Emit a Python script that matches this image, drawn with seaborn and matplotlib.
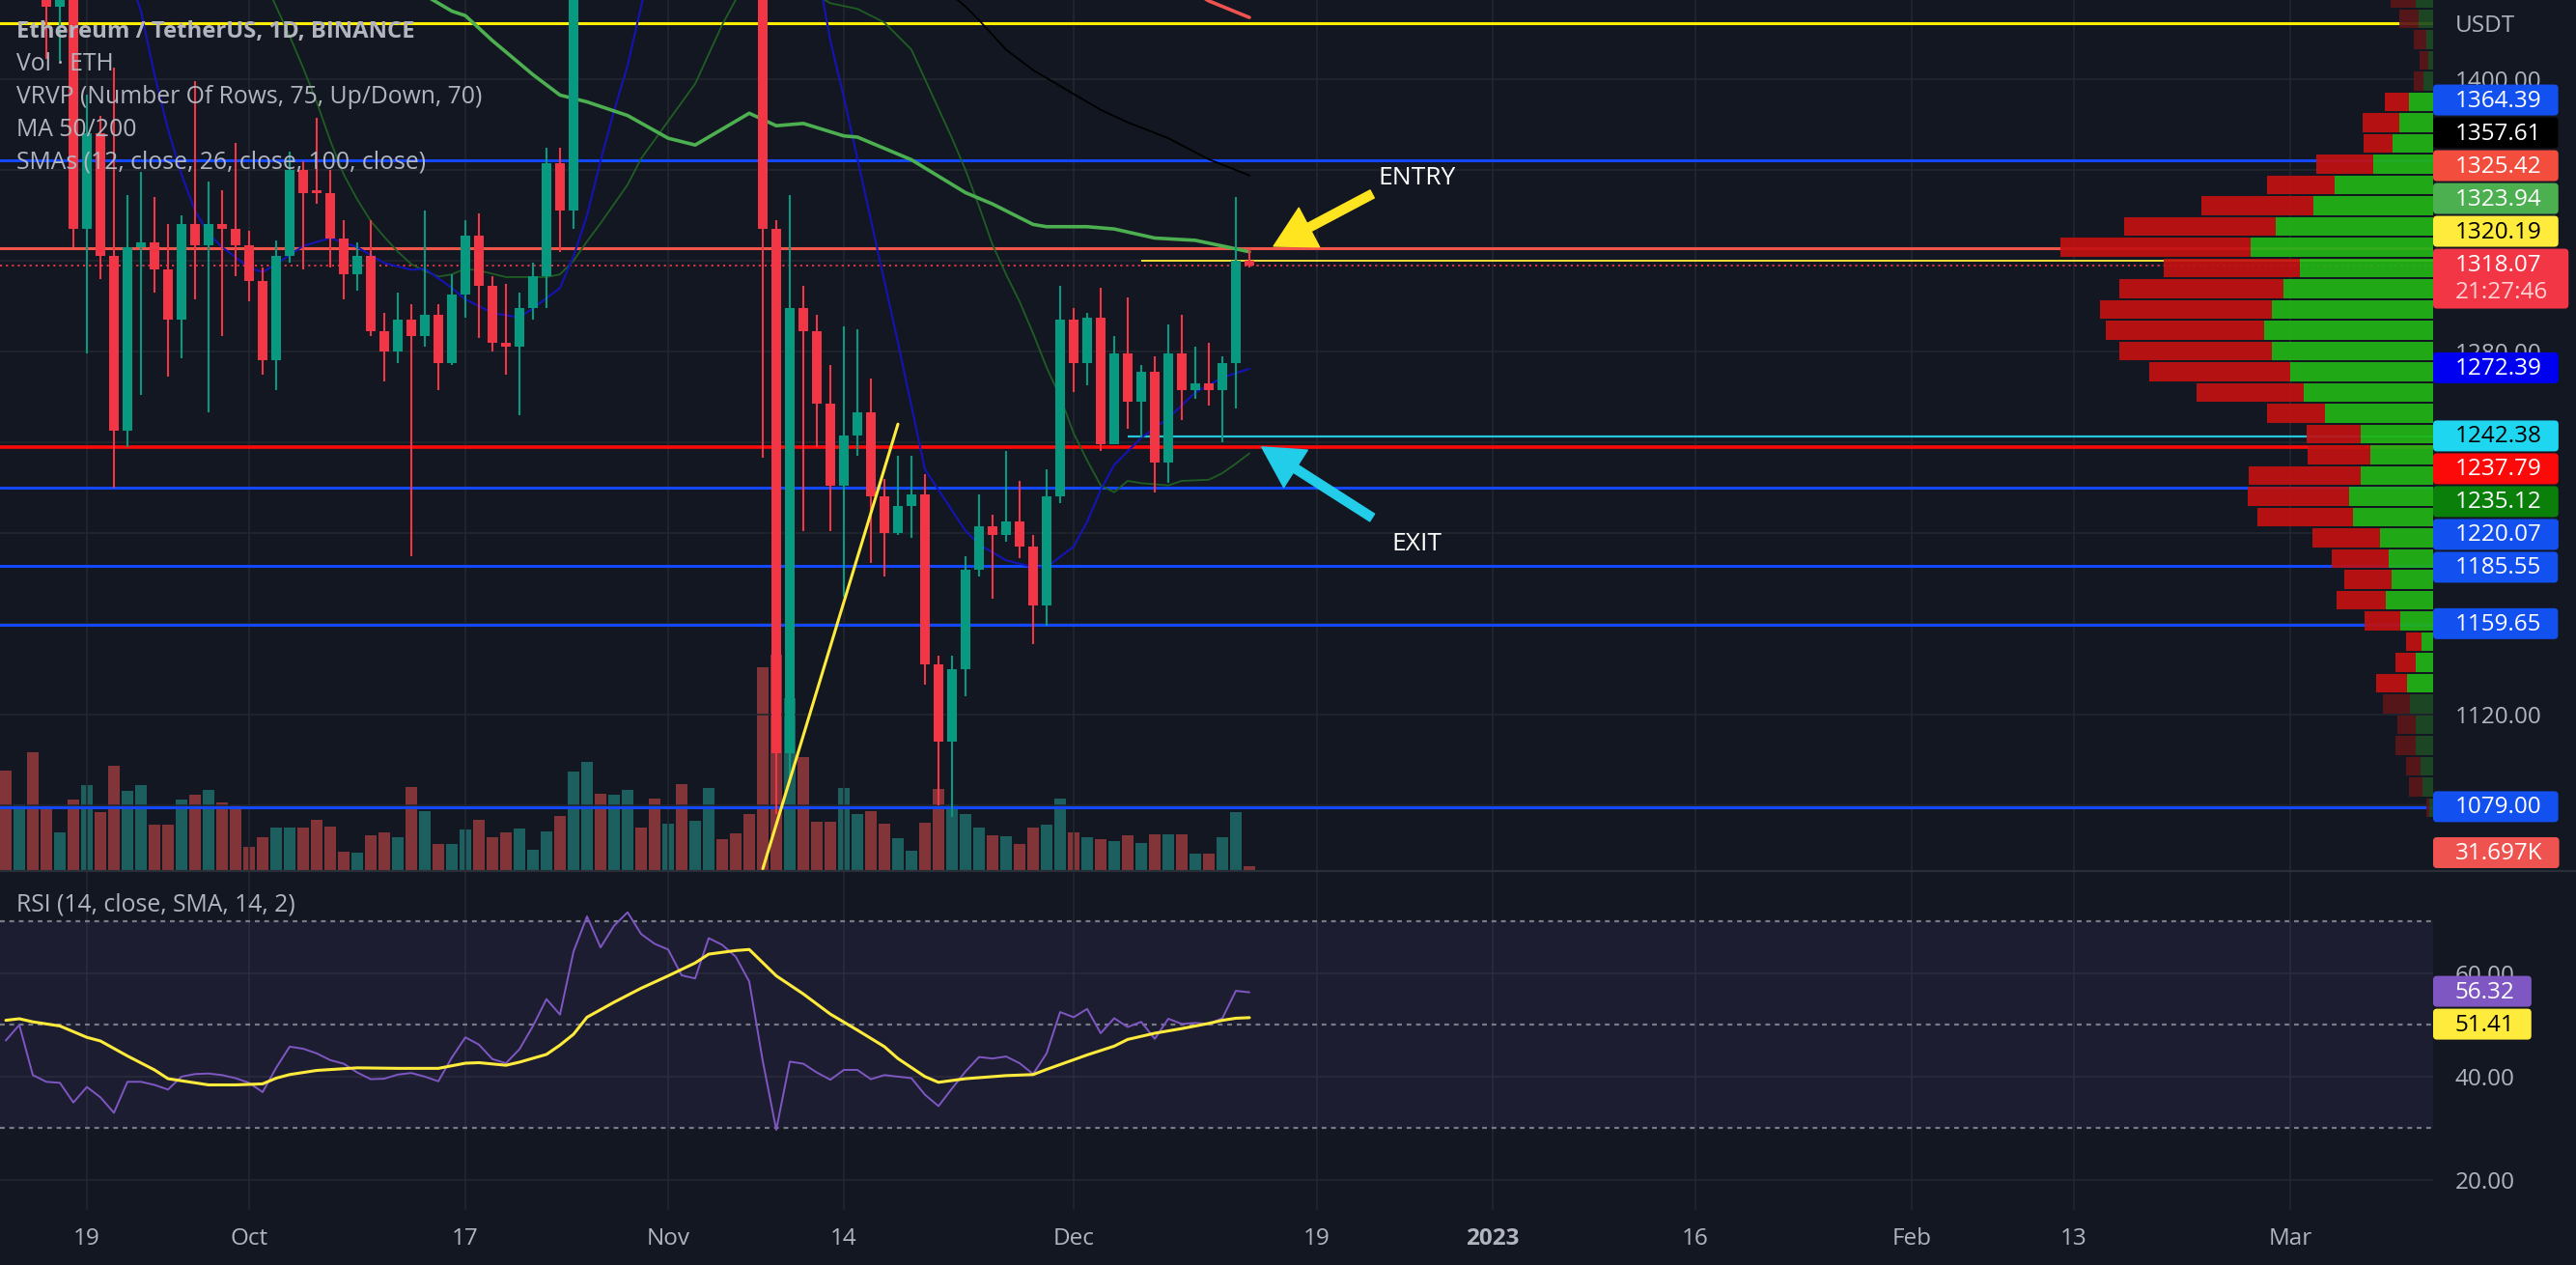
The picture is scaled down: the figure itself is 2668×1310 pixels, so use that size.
import numpy as np
import pandas as pd
import matplotlib
matplotlib.use("Agg")
import matplotlib.pyplot as plt
import matplotlib.transforms as mtransforms
from matplotlib.patches import FancyBboxPatch
from matplotlib.ticker import FormatStrFormatter
import seaborn as sns

# ======================= DATA =======================
first_candle = "2022-09-13"
opens = [1716, 1573, 1636, 1472, 1432, 1470, 1334, 1376, 1322, 1245,
         1326, 1328, 1316, 1294, 1336, 1327, 1336, 1334, 1327, 1311,
         1276, 1322, 1360, 1351, 1350, 1330, 1314, 1322, 1289, 1280,
         1294, 1287, 1296, 1275, 1305, 1331, 1309, 1284, 1282, 1299,
         1313, 1363, 1342, 1460, 1565, 1513, 1555, 1620, 1590, 1572,
         1580, 1520, 1531, 1645, 1627, 1573, 1568, 1334, 1103, 1299,
         1289, 1257, 1221, 1243, 1253, 1216, 1200, 1212, 1217, 1142,
         1108, 1140, 1184, 1203, 1199, 1205, 1194, 1168, 1216, 1294,
         1275, 1295, 1239, 1279, 1258, 1271, 1231, 1279, 1263, 1266,
         1263, 1275, 1320]
highs = [1785, 1640, 1652, 1480, 1478, 1472, 1393, 1384, 1405, 1349,
         1359, 1348, 1336, 1340, 1399, 1355, 1351, 1372, 1333, 1317,
         1329, 1368, 1364, 1383, 1360, 1338, 1328, 1338, 1297, 1306,
         1301, 1342, 1301, 1314, 1338, 1341, 1313, 1310, 1306, 1319,
         1370, 1370, 1470, 1590, 1580, 1560, 1640, 1635, 1640, 1610,
         1620, 1560, 1680, 1680, 1640, 1600, 1610, 1338, 1349, 1309,
         1296, 1274, 1291, 1290, 1268, 1224, 1234, 1234, 1226, 1146,
         1146, 1190, 1217, 1208, 1236, 1223, 1199, 1228, 1309, 1299,
         1297, 1308, 1287, 1304, 1274, 1278, 1292, 1296, 1282, 1284,
         1278, 1348, 1325]
lows = [1560, 1555, 1460, 1409, 1408, 1326, 1279, 1312, 1220, 1238,
        1261, 1306, 1269, 1277, 1303, 1253, 1287, 1313, 1302, 1270,
        1263, 1319, 1316, 1345, 1317, 1303, 1307, 1287, 1267, 1275,
        1190, 1282, 1263, 1274, 1295, 1286, 1280, 1270, 1252, 1294,
        1299, 1324, 1334, 1455, 1505, 1485, 1550, 1575, 1555, 1565,
        1505, 1510, 1528, 1620, 1570, 1545, 1233, 1076, 1090, 1201,
        1238, 1201, 1172, 1234, 1187, 1181, 1199, 1198, 1133, 1080,
        1075, 1128, 1181, 1171, 1196, 1189, 1151, 1159, 1213, 1262,
        1265, 1236, 1239, 1246, 1242, 1218, 1222, 1250, 1259, 1256,
        1240, 1255, 1317]
closes = [1573, 1636, 1472, 1432, 1470, 1334, 1376, 1322, 1245, 1326,
          1328, 1316, 1294, 1336, 1327, 1336, 1334, 1327, 1311, 1276,
          1322, 1360, 1350, 1350, 1330, 1314, 1322, 1289, 1280, 1294,
          1287, 1296, 1275, 1305, 1331, 1309, 1284, 1282, 1299, 1313,
          1363, 1342, 1460, 1565, 1513, 1555, 1620, 1590, 1572, 1580,
          1520, 1531, 1645, 1627, 1573, 1568, 1334, 1103, 1299, 1289,
          1257, 1221, 1243, 1253, 1216, 1200, 1212, 1217, 1142, 1108,
          1140, 1184, 1203, 1199, 1205, 1194, 1168, 1216, 1294, 1275,
          1295, 1239, 1279, 1258, 1271, 1231, 1279, 1263, 1266, 1263,
          1275, 1320, 1318.07]
volumes_k = [824, 544, 976, 504, 312, 584, 704, 480, 864, 656,
             704, 376, 376, 584, 624, 664, 560, 536, 192, 272,
             352, 352, 352, 416, 360, 152, 144, 288, 312, 272,
             688, 488, 216, 216, 336, 416, 272, 312, 344, 168,
             320, 448, 816, 896, 632, 624, 664, 352, 592, 384,
             712, 408, 680, 256, 304, 464, 1680, 1784, 1424, 936,
             400, 400, 680, 464, 488, 384, 264, 160, 392, 672,
             544, 464, 352, 288, 280, 216, 352, 376, 592, 312,
             272, 256, 240, 288, 224, 296, 296, 296, 136, 136,
             272, 480, 31.697]
countdown = "21:27:46"

rsi_values = [47.0, 50.0, 40.3, 39.0, 38.8, 35.0, 38.0, 36.0, 33.0, 39.0,
              39.0, 38.4, 37.5, 40.0, 40.5, 40.6, 40.3, 39.7, 38.8, 37.0,
              41.7, 45.8, 45.4, 44.5, 43.2, 42.5, 40.8, 39.5, 39.6, 40.4,
              40.7, 40.0, 39.1, 43.7, 47.6, 46.2, 43.4, 42.6, 45.3, 49.8,
              55.0, 52.0, 64.2, 71.0, 65.0, 69.2, 71.8, 67.6, 65.7, 64.6,
              59.6, 59.0, 66.8, 65.5, 63.2, 58.4, 43.0, 29.7, 42.9, 42.5,
              40.8, 39.4, 41.3, 41.3, 39.5, 40.3, 40.0, 39.7, 36.5, 34.3,
              37.7, 41.0, 43.8, 43.5, 43.9, 42.6, 40.5, 44.5, 52.5, 51.5,
              53.1, 48.4, 51.3, 49.6, 50.6, 47.3, 51.2, 50.2, 50.4, 50.2,
              51.3, 56.6, 56.32]

rsi_ma_dates = ["2022-09-13", "2022-09-14", "2022-09-15", "2022-09-17", "2022-09-19",
                "2022-09-20", "2022-09-22", "2022-09-24", "2022-09-25", "2022-09-28",
                "2022-09-30", "2022-10-02", "2022-10-03", "2022-10-04", "2022-10-06",
                "2022-10-09", "2022-10-12", "2022-10-15", "2022-10-17", "2022-10-18",
                "2022-10-20", "2022-10-21", "2022-10-23", "2022-10-24", "2022-10-25",
                "2022-10-26", "2022-10-28", "2022-10-30", "2022-11-01", "2022-11-03",
                "2022-11-04", "2022-11-06", "2022-11-07", "2022-11-09", "2022-11-11",
                "2022-11-13", "2022-11-15", "2022-11-17", "2022-11-18", "2022-11-20",
                "2022-11-21", "2022-11-23", "2022-11-24", "2022-11-26", "2022-11-28",
                "2022-11-29", "2022-12-02", "2022-12-04", "2022-12-05", "2022-12-07",
                "2022-12-09", "2022-12-11", "2022-12-12", "2022-12-13", "2022-12-14"]
rsi_ma_values = [50.9, 51.2, 50.6, 49.8, 47.6, 46.9, 44.0, 41.3, 39.6, 38.4,
                 38.4, 38.6, 39.7, 40.4, 41.2, 41.7, 41.6, 41.6, 42.6, 42.7,
                 42.2, 42.8, 44.3, 46.1, 48.2, 51.5, 54.4, 57.1, 59.5, 62.0,
                 63.7, 64.4, 64.6, 59.5, 56.0, 52.1, 49.0, 45.8, 43.5, 40.0,
                 38.9, 39.6, 39.8, 40.2, 40.4, 41.4, 44.2, 45.9, 47.2, 48.4,
                 49.3, 50.3, 50.9, 51.3, 51.41]

ma50_dates = ["2022-10-13", "2022-10-14", "2022-10-16", "2022-10-17", "2022-10-19",
              "2022-10-22", "2022-10-24", "2022-10-26", "2022-10-29", "2022-11-01",
              "2022-11-03", "2022-11-05", "2022-11-07", "2022-11-09", "2022-11-11",
              "2022-11-14", "2022-11-15", "2022-11-19", "2022-11-23", "2022-11-25",
              "2022-11-28", "2022-11-29", "2022-12-02", "2022-12-04", "2022-12-07",
              "2022-12-10", "2022-12-12", "2022-12-14"]
ma50_values = [1442, 1437, 1430, 1428, 1417, 1402, 1393, 1390, 1384, 1374,
               1371, 1378, 1385, 1379.5, 1380.5, 1375, 1374.5, 1364.5, 1350, 1345,
               1336, 1335, 1335, 1334, 1330, 1329, 1326.5, 1323.94]

ma200_dates = ["2022-12-10", "2022-12-11", "2022-12-14"]
ma200_values = [1438, 1434.5, 1427.2]

sma12_dates = ["2022-09-22", "2022-09-23", "2022-09-24", "2022-09-25", "2022-09-26",
               "2022-09-27", "2022-09-28", "2022-09-29", "2022-10-01", "2022-10-02",
               "2022-10-03", "2022-10-05", "2022-10-07", "2022-10-09", "2022-10-11",
               "2022-10-13", "2022-10-14", "2022-10-16", "2022-10-17", "2022-10-19",
               "2022-10-21", "2022-10-22", "2022-10-24", "2022-10-25", "2022-10-26",
               "2022-10-27", "2022-10-28", "2022-10-29", "2022-10-30", "2022-10-31",
               "2022-11-05", "2022-11-10", "2022-11-12", "2022-11-13", "2022-11-14",
               "2022-11-15", "2022-11-16", "2022-11-17", "2022-11-18", "2022-11-19",
               "2022-11-20", "2022-11-21", "2022-11-22", "2022-11-23", "2022-11-24",
               "2022-11-26", "2022-11-28", "2022-11-29", "2022-12-01", "2022-12-02",
               "2022-12-03", "2022-12-04", "2022-12-06", "2022-12-08", "2022-12-10",
               "2022-12-12", "2022-12-14"]
sma12_values = [1448, 1430, 1402, 1378, 1358, 1342, 1332, 1326, 1317, 1315,
                1318.5, 1326.5, 1330, 1326, 1319, 1316, 1316.5, 1308, 1303, 1297,
                1295, 1299, 1308, 1322, 1340, 1364, 1386, 1406, 1432, 1458,
                1560, 1530, 1450, 1417, 1392, 1365, 1338, 1311, 1284, 1256,
                1228, 1219, 1210, 1201, 1195, 1188, 1185, 1185, 1194, 1205,
                1219, 1230, 1242, 1250.6, 1262, 1268.5, 1272.39]

sma26_dates = ["2022-10-02", "2022-10-03", "2022-10-04", "2022-10-05", "2022-10-06",
               "2022-10-07", "2022-10-08", "2022-10-09", "2022-10-10", "2022-10-11",
               "2022-10-12", "2022-10-13", "2022-10-14", "2022-10-15", "2022-10-16",
               "2022-10-17", "2022-10-18", "2022-10-20", "2022-10-23", "2022-10-24",
               "2022-10-25", "2022-10-26", "2022-10-27", "2022-10-28", "2022-10-29",
               "2022-10-30", "2022-11-01", "2022-11-03", "2022-11-04", "2022-11-05",
               "2022-11-06", "2022-11-08", "2022-11-11", "2022-11-12", "2022-11-13",
               "2022-11-15", "2022-11-17", "2022-11-19", "2022-11-20", "2022-11-22",
               "2022-11-23", "2022-11-24", "2022-11-25", "2022-11-26", "2022-11-27",
               "2022-11-28", "2022-11-29", "2022-11-30", "2022-12-01", "2022-12-02",
               "2022-12-03", "2022-12-04", "2022-12-05", "2022-12-06", "2022-12-08",
               "2022-12-09", "2022-12-11", "2022-12-12", "2022-12-13", "2022-12-14"]
sma26_values = [1445, 1432, 1419, 1405, 1390, 1373, 1358, 1347, 1337.5, 1330.5,
                1324, 1318.5, 1315.5, 1313, 1314, 1316.5, 1315.7, 1312.8, 1312.8, 1314,
                1320, 1328.5, 1336.5, 1345, 1353.5, 1365, 1381.5, 1398, 1411, 1424,
                1435, 1452, 1446, 1437, 1433.5, 1431, 1425, 1413, 1400, 1374,
                1360, 1344, 1327, 1314, 1302, 1288, 1273, 1260, 1244, 1232,
                1221, 1218, 1223, 1222, 1221, 1223, 1223.5, 1226.4, 1230.6, 1235.12]

sma100_dates = ["2022-11-21", "2022-11-22", "2022-11-23", "2022-11-24", "2022-11-26",
                "2022-11-28", "2022-12-01", "2022-12-03", "2022-12-05", "2022-12-08",
                "2022-12-11", "2022-12-14"]
sma100_values = [1445, 1437, 1432, 1426, 1413, 1404, 1393.5, 1386.5, 1381, 1374,
                 1364.7, 1357.61]

# horizontal levels drawn on the chart
level_prices = [1424.7, 1364.39, 1325.42, 1237.79, 1220.07, 1185.55, 1159.65, 1079.00]
level_colors = ["#ffee00", "#1448ff", "#f0554a", "#ff0a0a", "#1448ff", "#1448ff", "#1448ff", "#1448ff"]
level_label_colors = [None, "#1250f0", "#f24d3d", "#fc0a0a", "#1250f0", "#1250f0", "#1250f0", "#1250f0"]
entry_level, entry_from = 1320.19, "2022-12-06"
exit_level, exit_from = 1242.38, "2022-12-05"

trend_dates = ["2022-11-08", "2022-11-18"]
trend_prices = [1052, 1248]

entry_arrow = (("2022-12-23 02:00", 1349.4), ("2022-12-15 19:00", 1326.4))
exit_arrow = (("2022-12-23 02:00", 1206.8), ("2022-12-14 22:00", 1237.9))
entry_text = ("2022-12-26 10:00", 1356.2, "ENTRY")
exit_text = ("2022-12-26 10:00", 1195.3, "EXIT")

# VRVP rows (bottom to top)
vrvp_low, vrvp_step = 1074.3, 9.15
vrvp_up = [4, 11, 13, 18, 18, 24, 27, 18, 12, 34,
           49, 43, 46, 55, 83, 87, 75, 65, 75, 112,
           134, 148, 167, 175, 167, 155, 138, 189, 163, 124,
           102, 62, 42, 35, 25, 10, 5, 7, 15, 18]
vrvp_down = [3, 14, 15, 21, 19, 28, 32, 21, 16, 37,
             51, 49, 59, 70, 99, 105, 116, 65, 56, 60,
             111, 146, 158, 164, 178, 170, 141, 197, 157, 116,
             70, 59, 30, 38, 25, 10, 9, 13, 20, 26]
vrvp_value_area = (6, 34)

time_tick_dates = ["2022-09-19", "2022-10-01", "2022-10-17", "2022-11-01", "2022-11-14",
                   "2022-12-01", "2022-12-19", "2023-01-01", "2023-01-16", "2023-02-01",
                   "2023-02-13", "2023-03-01"]
time_tick_labels = ["19", "Oct", "17", "Nov", "14", "Dec", "19", "2023", "16", "Feb", "13", "Mar"]
price_grid = [1080, 1120, 1160, 1200, 1240, 1280, 1320, 1360, 1400]
price_tick_labels = [1120, 1280, 1400]      # the tick labels not hidden by value tags
rsi_ticks = [20, 40, 60]

legend_lines = ["Ethereum / TetherUS, 1D, BINANCE", "Vol · ETH",
                "VRVP (Number Of Rows, 75, Up/Down, 70)", "MA 50/200",
                "SMAs (12, close, 26, close, 100, close)"]
rsi_title = "RSI (14, close, SMA, 14, 2)"

# ======================= STYLE / LAYOUT =======================
BG = "#131722"
GRID = "#22262f"
TXT = "#b2b5be"
UP, DOWN = "#089981", "#f23645"
VOL_UP, VOL_DOWN = "#1d5f5e", "#813539"

sns.set_theme(style="dark", rc={"axes.facecolor": BG, "figure.facecolor": BG})
plt.rcParams["font.family"] = ["Open Sans", "DejaVu Sans"]

W, H, DPI = 2668, 1310, 100
PLOT_R = 2520
PRICE_BOTTOM = 901
RSI_TOP, RSI_BOTTOM = 903, 1253
X0_PX, PX_PER_DAY = 90, 14.0
BASE = pd.Timestamp("2022-09-19")
FS = 17.5

def dnum(dates):
    return ((pd.to_datetime(pd.Series(dates)) - BASE) / pd.Timedelta(days=1)).to_numpy()

def rect(x0, y0, x1, y1):
    return [x0 / W, 1 - y1 / H, (x1 - x0) / W, (y1 - y0) / H]

fig = plt.figure(figsize=(W / DPI, H / DPI), dpi=DPI)
fig.patch.set_facecolor(BG)

axv = fig.add_axes(rect(0, 0, PLOT_R, PRICE_BOTTOM), zorder=0)
ax = fig.add_axes(rect(0, 0, PLOT_R, PRICE_BOTTOM), sharex=axv, zorder=1)
axp = fig.add_axes(rect(PLOT_R - 400, 0, PLOT_R, PRICE_BOTTOM), zorder=2)
axr = fig.add_axes(rect(0, RSI_TOP, PLOT_R, RSI_BOTTOM), sharex=axv, zorder=0)

xlim = (-X0_PX / PX_PER_DAY, (PLOT_R - X0_PX) / PX_PER_DAY)
PRICE_LIM = (1051.5, 1434.9)
RSI_LIM = (14.2, 79.6)
axv.set_facecolor(BG)
ax.set_facecolor("none")
axp.set_facecolor("none")
axr.set_facecolor(BG)

for a in (axv, ax, axp, axr):
    for s in a.spines.values():
        s.set_visible(False)
    a.grid(False)

# ---------- grid ----------
tick_days = dnum(time_tick_dates)
for td in tick_days:
    ax.axvline(td, color=GRID, lw=1.2, zorder=0)
    axr.axvline(td, color=GRID, lw=1.2, zorder=0)
for pg in price_grid:
    ax.axhline(pg, color=GRID, lw=1.2, zorder=0)
for rg in rsi_ticks:
    axr.axhline(rg, color=GRID, lw=1.2, zorder=0)

axr.set_xticks(tick_days)
axr.set_xticklabels(time_tick_labels)
ax.set_yticks(price_tick_labels)
axr.set_yticks(rsi_ticks)
axv.set_yticks([])
axp.set_xticks([]); axp.set_yticks([])
ax.tick_params(axis="x", labelbottom=False, length=0)
axv.tick_params(axis="x", labelbottom=False, length=0)

ax.yaxis.tick_right()
ax.yaxis.set_major_formatter(FormatStrFormatter("%.2f"))
ax.tick_params(axis="y", length=0, pad=16.5, labelsize=FS, labelcolor=TXT)
axr.yaxis.tick_right()
axr.yaxis.set_major_formatter(FormatStrFormatter("%.2f"))
axr.tick_params(axis="y", length=0, pad=16.5, labelsize=FS, labelcolor=TXT)
axr.tick_params(axis="x", length=0, pad=13, labelsize=FS, labelcolor=TXT)
for t in axr.get_xticklabels():
    if t.get_text() == "2023":
        t.set_fontweight("bold")

# ---------- candles & volume ----------
o = np.array(opens, float); h = np.array(highs, float)
l = np.array(lows, float); c = np.array(closes, float)
days = dnum(pd.date_range(first_candle, periods=len(o)))
is_up = c >= o
col = np.where(is_up, UP, DOWN)
axv.bar(days, volumes_k, width=0.82, color=np.where(is_up, VOL_UP, VOL_DOWN), linewidth=0, zorder=2)
ax.vlines(days, l, h, colors=col, lw=1.5, zorder=6)
ax.bar(days, np.maximum(np.abs(c - o), 0.7), bottom=np.minimum(o, c), width=0.72,
       color=col, linewidth=0, zorder=7)

# ---------- levels ----------
for lv, lc in zip(level_prices, level_colors):
    lw = 2.6 if lc == "#ff0a0a" else 2.2
    ax.axhline(lv, color=lc, lw=lw, zorder=3)
ax.axhline(c[-1], color=DOWN, lw=1.3, ls=(0, (1.2, 2.2)), zorder=3)
ax.hlines(entry_level, dnum([entry_from])[0], xlim[1], color="#ffeb3b", lw=1.3, zorder=3)
ax.hlines(exit_level, dnum([exit_from])[0], xlim[1], color="#26c6da", lw=1.6, zorder=3)

# ---------- moving averages ----------
sns.lineplot(x=dnum(sma26_dates), y=sma26_values, ax=ax, color="#1f5e22", lw=1.3, zorder=4)
sns.lineplot(x=dnum(sma12_dates), y=sma12_values, ax=ax, color="#1414b4", lw=1.5, zorder=4)
sns.lineplot(x=dnum(sma100_dates), y=sma100_values, ax=ax, color="#000000", lw=1.3, zorder=4)
sns.lineplot(x=dnum(ma50_dates), y=ma50_values, ax=ax, color="#4caf50", lw=2.6, zorder=4)
sns.lineplot(x=dnum(ma200_dates), y=ma200_values, ax=ax, color="#ef5350", lw=2.6, zorder=4)
ax.plot(dnum(trend_dates), trend_prices, color="#ffeb3b", lw=2.2, zorder=8)
ax.set_xlabel(""); ax.set_ylabel("")

# ---------- arrows & notes ----------
for (tail, head), colr in ((entry_arrow, "#ffe51f"), (exit_arrow, "#22cdea")):
    ax.annotate("", xy=(dnum([head[0]])[0], head[1]), xytext=(dnum([tail[0]])[0], tail[1]),
                arrowprops=dict(arrowstyle="simple,head_length=1.0,head_width=1.1,tail_width=0.22",
                                color=colr, mutation_scale=30, shrinkA=0, shrinkB=0),
                zorder=9)
for tx, ty, s in (entry_text, exit_text):
    ax.text(dnum([tx])[0], ty, s, color="white", fontsize=19, ha="center", va="center", zorder=9)

# ---------- VRVP ----------
rows = np.arange(len(vrvp_up))
mids = vrvp_low + (rows + 0.5) * vrvp_step
in_va = (rows >= vrvp_value_area[0]) & (rows <= vrvp_value_area[1])
axp.barh(mids, vrvp_up, height=vrvp_step * 0.9, left=0,
         color=np.where(in_va, "#22b515", "#1d4b24"), alpha=0.92, linewidth=0)
axp.barh(mids, vrvp_down, height=vrvp_step * 0.9, left=vrvp_up,
         color=np.where(in_va, "#c21111", "#5b1619"), alpha=0.92, linewidth=0)

# ---------- RSI ----------
rsi_days = dnum(pd.date_range(first_candle, periods=len(rsi_values)))
axr.axhspan(30, 70, facecolor="#7e57c2", alpha=0.1, lw=0, zorder=1)
for lvl in (70, 50, 30):
    axr.axhline(lvl, color="#787b86", lw=1.6, ls=(0, (2.2, 2.2)), zorder=2)
sns.lineplot(x=rsi_days, y=rsi_values, ax=axr, color="#7e57c2", lw=1.4, zorder=3)
sns.lineplot(x=dnum(rsi_ma_dates), y=rsi_ma_values, ax=axr, color="#ffeb3b", lw=2.2, zorder=4)
axr.set_xlabel(""); axr.set_ylabel("")

ax.set_xlim(*xlim)
ax.set_ylim(*PRICE_LIM)
axp.set_ylim(*PRICE_LIM)
axp.set_xlim(400, 0)
axv.set_ylim(0, PRICE_BOTTOM * 8)
axr.set_ylim(*RSI_LIM)

# pane separator
fig.add_artist(plt.Line2D([0, 1], [1 - 902 / H, 1 - 902 / H], transform=fig.transFigure,
                          color="#2a2e39", lw=1.6))

# ---------- texts ----------
def px_text(x, y, s, **kw):
    return fig.text(x / W, 1 - y / H, s, **kw)

for i, s in enumerate(legend_lines):
    px_text(17, 33 + i * 33.8, s, color=TXT, fontsize=(17.2 if i == 0 else 17.8),
            va="center", ha="left", fontweight="bold" if i == 0 else "normal", zorder=10)
px_text(17, 937, rsi_title, color=TXT, fontsize=17.8, va="center", ha="left", zorder=10)
px_text(2543, 27, "USDT", color=TXT, fontsize=FS, va="center", ha="left", zorder=10)

# ---------- axis value labels ----------
renderer = fig.canvas.get_renderer()

def y_px(axis, val):
    return H - axis.transData.transform((0, val))[1]

def draw_label(yc, lines, bg, fg, fg2=None, box_h=32, extra_w=0):
    ts = []
    n = len(lines)
    for k, s in enumerate(lines):
        t = px_text(2543, yc + k * 28, s, color=(fg if k == 0 else (fg2 or fg)), fontsize=FS,
                    va="center", ha="left", zorder=12)
        ts.append(t)
    wid = max(t.get_window_extent(renderer=renderer).width for t in ts)
    top = yc - 17
    bottom = top + (box_h if n == 1 else 62)
    p = FancyBboxPatch((PLOT_R, H - bottom), wid + 40 + extra_w, bottom - top,
                       boxstyle="round,pad=0,rounding_size=4",
                       transform=mtransforms.IdentityTransform(),
                       facecolor=bg, edgecolor="none", zorder=11)
    fig.add_artist(p)

labels = []
for lv, lc in zip(level_prices, level_label_colors):
    if lc is not None:
        labels.append((lv, lc, "white"))
labels += [(sma100_values[-1], "#000000", "white"),
           (ma50_values[-1], "#4caf50", "white"),
           (entry_level, "#ffeb3b", "black"),
           (sma12_values[-1], "#0000f0", "white"),
           (exit_level, "#1ed6f0", "black"),
           (sma26_values[-1], "#0a800a", "white")]

cur_y = y_px(ax, c[-1])
above = sorted([lb for lb in labels if lb[0] > c[-1]], key=lambda t: t[0])
below = sorted([lb for lb in labels if lb[0] <= c[-1]], key=lambda t: -t[0])
prev_top = cur_y - 17
for val, bg, fg in above:
    yc = min(y_px(ax, val), prev_top - 17)
    draw_label(yc, ["%.2f" % val], bg, fg)
    prev_top = yc - 17
prev_bot = cur_y + 45
for val, bg, fg in below:
    yc = max(y_px(ax, val), prev_bot + 17)
    draw_label(yc, ["%.2f" % val], bg, fg)
    prev_bot = yc + 17
draw_label(cur_y, ["%.2f" % c[-1], countdown], DOWN, "white", fg2="#ffd2d6", extra_w=4)

vol_y = min(y_px(axv, volumes_k[-1]), PRICE_BOTTOM - 17)
draw_label(vol_y, ["%.3fK" % volumes_k[-1]], "#ef5350", "white")

r1 = y_px(axr, rsi_values[-1])
draw_label(r1, ["%.2f" % rsi_values[-1]], "#7e57c2", "white")
r2 = max(y_px(axr, rsi_ma_values[-1]), r1 + 34)
draw_label(r2, ["%.2f" % rsi_ma_values[-1]], "#ffeb3b", "black")

fig.savefig("out.png", dpi=DPI, facecolor=BG)
